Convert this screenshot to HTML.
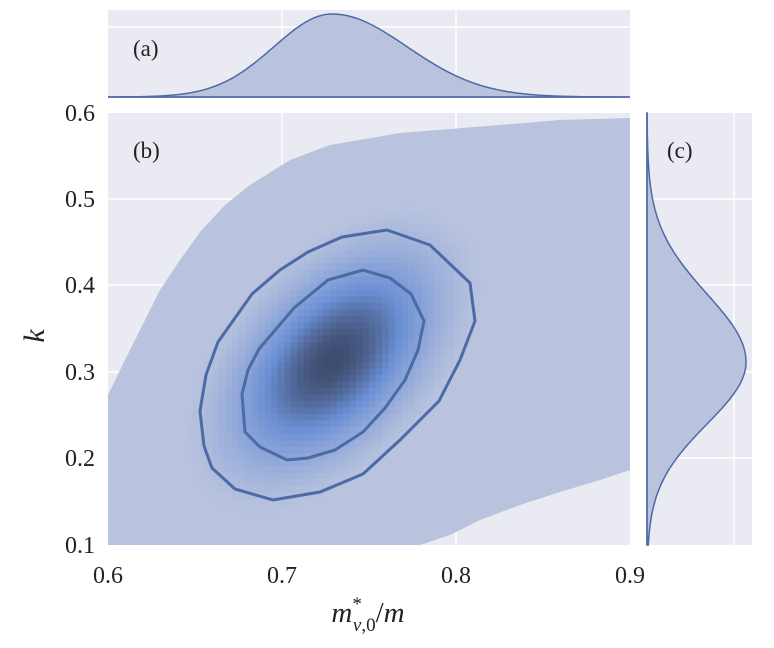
<!DOCTYPE html>
<html><head><meta charset="utf-8"><style>
body{margin:0;background:#fff;}
svg{display:block;font-family:"Liberation Serif",serif;}
</style></head><body>
<svg id="s" width="774" height="648" viewBox="0 0 774 648" xmlns="http://www.w3.org/2000/svg">
<defs><clipPath id="cm"><rect x="108" y="113" width="522" height="432"/></clipPath></defs>
<rect x="108" y="10" width="522" height="88" fill="#eaeaf2"/>
<rect x="108" y="113" width="522" height="432" fill="#eaeaf2"/>
<rect x="647" y="113" width="105" height="432" fill="#eaeaf2"/>
<g stroke="#fff" stroke-width="1.5">
<line x1="282" y1="10" x2="282" y2="98"/><line x1="456" y1="10" x2="456" y2="98"/>
<line x1="108" y1="27" x2="630" y2="27"/>
<line x1="282" y1="113" x2="282" y2="545"/><line x1="456" y1="113" x2="456" y2="545"/>
<line x1="108" y1="199" x2="630" y2="199"/><line x1="108" y1="285" x2="630" y2="285"/>
<line x1="108" y1="372" x2="630" y2="372"/><line x1="108" y1="458" x2="630" y2="458"/>
<line x1="647" y1="199" x2="752" y2="199"/><line x1="647" y1="285" x2="752" y2="285"/>
<line x1="647" y1="372" x2="752" y2="372"/><line x1="647" y1="458" x2="752" y2="458"/>
<line x1="734" y1="113" x2="734" y2="545"/>
</g>
<g clip-path="url(#cm)">
<path d="M108,395 L125,360 L140,330 L160,290 L180,260 L200,232 L225,205 L250,185 L290,160 L330,145 L400,133 L500,125 L560,120 L630,118 L630,470 L600,480 L560,492 L520,505 L480,520 L450,535 L420,545 L108,545 Z" fill="#b9c3de"/>
<g id="cells"></g>
<path d="M342,237 L387,230 L430,245 L470,283 L475,321 L460,360 L439,401 L400,440 L363,474 L320,492 L273,500 L235,489 L212,468 L204,446 L200,411 L206,375 L218,342 L252,294 L280,270 L308,252 Z" fill="none" stroke="#4c6aa6" stroke-width="3"/>
<path d="M328,280 L363,270 L390,278 L411,294 L424,321 L418,350 L405,380 L385,408 L363,432 L335,450 L308,458 L287,460 L260,447 L245,432 L242,394 L248,370 L259,349 L294,308 Z" fill="none" stroke="#4c6aa6" stroke-width="3"/>
</g>
<path id="top" fill="#b9c3de" stroke="#4c6aa6" stroke-width="1.5"/>
<path id="rgt" fill="#b9c3de" stroke="#4c6aa6" stroke-width="1.5"/>
<line x1="108" y1="97" x2="630" y2="97" stroke="#4c6aa6" stroke-width="1.5"/>
<line x1="647" y1="113" x2="647" y2="545" stroke="#4c6aa6" stroke-width="1.5"/>
<g font-size="23" fill="#222">
<text x="133" y="56">(a)</text>
<text x="133" y="158">(b)</text>
<text x="667" y="158">(c)</text>
</g>
<g font-size="24" fill="#222" text-anchor="middle">
<text x="108" y="583">0.6</text><text x="282" y="583">0.7</text><text x="456" y="583">0.8</text><text x="630" y="583">0.9</text>
</g>
<g font-size="24" fill="#222" text-anchor="end">
<text x="95" y="121">0.6</text><text x="95" y="207">0.5</text><text x="95" y="293">0.4</text>
<text x="95" y="380">0.3</text><text x="95" y="466">0.2</text><text x="95" y="553">0.1</text>
</g>
<text x="44" y="336" font-size="30" font-style="italic" fill="#222" text-anchor="middle" transform="rotate(-90 44 336)">k</text>
<text x="368" y="622" font-size="29" fill="#222" text-anchor="middle"><tspan font-style="italic">m</tspan><tspan font-size="19" dy="-12">*</tspan><tspan font-size="19" dx="-9" dy="21"><tspan font-style="italic">v</tspan>,0</tspan><tspan dy="-9">/</tspan><tspan font-style="italic">m</tspan></text>
</svg>
<script>
var d="M108,97";
for(var x=108;x<=630;x+=2){var s=x<332?58:75;var z=(x-332)/s;var y=97-83*Math.exp(-0.5*z*z);d+=" L"+x+","+y.toFixed(1);}
d+=" L630,97 Z";document.getElementById("top").setAttribute("d",d);
var r="M647,113";
for(var y=113;y<=545;y+=2){var s=y<362?68:62;var z=(y-362)/s;var x=647+99*Math.exp(-0.5*z*z);r+=" L"+x.toFixed(1)+","+y;}
r+=" L647,545 Z";document.getElementById("rgt").setAttribute("d",r);
var g=document.getElementById("cells");var h="";
function lerp(a,b,t){return [0,1,2].map(function(i){return Math.round(a[i]+(b[i]-a[i])*t);});}
var c0=[185,195,222],c1=[106,143,212],c2=[62,76,110];
var w=522/80,hh=432/66;
for(var i=0;i<80;i++)for(var j=0;j<66;j++){
 var cx=108+(i+0.5)*w,cy=113+(j+0.5)*hh;
 var u=(cx-333)/72,v=-(cy-360)/74,rho=0.5;
 var Q=(u*u-2*rho*u*v+v*v)/(1-rho*rho);
 var t=Math.exp(-0.5*Q);
 if(t<0.12)continue;
 var k=(t-0.12)/0.88;var col=k<0.6?lerp(c0,c1,k/0.6):lerp(c1,c2,(k-0.6)/0.4);
 h+='<rect x="'+(108+i*w).toFixed(1)+'" y="'+(113+j*hh).toFixed(1)+'" width="'+(w+0.3).toFixed(1)+'" height="'+(hh+0.3).toFixed(1)+'" fill="rgb('+col.join(",")+')"/>';
}
g.innerHTML=h;
</script>
</body></html>
